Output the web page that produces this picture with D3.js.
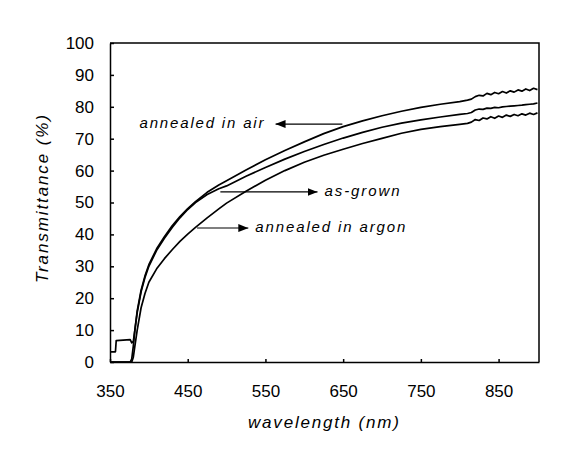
<html>
<head>
<script src="https://d3js.org/d3.v7.min.js"></script>
<style>
  body { margin: 0; background: white; }
  text { font-family: Arial, 'Liberation Sans', sans-serif; fill: black; }
  .tick text { font-size: 17px; }
  .lbl { font-size: 15px; font-style: italic; }
  .ttl { font-size: 17px; font-style: italic; }
</style>
</head>
<body>
<svg width="567" height="455"></svg>
<script>
// wavelength (nm) shared by all three scans
var wavelength = [350, 357, 358, 376, 378, 380, 382, 385, 390, 395,
  400, 410, 420, 430, 440, 450, 460, 475, 490, 500,
  525, 550, 575, 600, 625, 650, 675, 700, 725, 750,
  775, 800, 810, 815, 820, 825, 830, 835, 840, 845,
  850, 855, 860, 865, 870, 875, 880, 885, 890, 895, 900]
// transmittance (%)
var annealedAir = [0, 0, 0, 0, 1, 5, 10, 16, 22.5, 27,
  30.5, 35.5, 39.3, 42.7, 45.6, 48.1, 50.3, 53.2, 55.5, 56.8,
  60.2, 63.4, 66.3, 69, 71.6, 73.8, 75.6, 77.2, 78.6, 79.8,
  80.8, 81.6, 82.1, 82.4, 83.2, 83.6, 83.4, 84.2, 83.8, 84.5,
  84.1, 84.8, 84.3, 85, 84.6, 85.3, 84.9, 85.6, 85.1, 85.8, 85.4]
var asGrown = [3.2, 3.2, 6.7, 7, 6, 6.5, 10, 15.5, 22, 26.5,
  30, 35, 38.8, 42.2, 45.2, 47.8, 50, 52.5, 54.3, 55.2,
  58.2, 61, 63.6, 66, 68.2, 70.2, 72, 73.6, 74.9, 75.9,
  76.8, 77.6, 77.9, 78.2, 79, 79.3, 79.2, 79.6, 79.5, 79.8,
  79.7, 80, 80.1, 80.2, 80.3, 80.4, 80.5, 80.7, 80.8, 80.9, 81.2]
var annealedArgon = [0, 0, 0, 0, 0, 1.5, 5, 10, 17, 21.5,
  25, 29.2, 32.4, 35.2, 37.8, 40.1, 42.2, 45.2, 48, 49.8,
  53.5, 57, 60, 62.6, 64.8, 66.7, 68.5, 70.1, 71.7, 72.9,
  73.8, 74.5, 74.8, 75.2, 76, 75.7, 76.5, 76.2, 76.9, 76.4,
  77.1, 76.7, 77.4, 77, 77.6, 77.2, 77.8, 77.4, 78, 77.6, 78.1]

var xTicks = [350, 450, 550, 650, 750, 850]
var yTicks = [0, 10, 20, 30, 40, 50, 60, 70, 80, 90, 100]

// labels with arrows: tail on the curve, head pointing at the text (data units)
var notes = [
  {text: "annealed in air", tail: [649, 74.6], head: [563, 74.6], anchor: "end", len: 124},
  {text: "as-grown", tail: [492, 53.3], head: [617, 53.3], anchor: "start", len: 75},
  {text: "annealed in argon", tail: [462, 42], head: [528, 42], anchor: "start", len: 150}
]

var pL = 110, pR = 539, pT = 43, pB = 362
var x = d3.scaleLinear().domain([350, 902]).range([pL, pR])
var y = d3.scaleLinear().domain([0, 100]).range([pB, pT])

var svg = d3.select("svg")

svg.append("defs").append("marker")
  .attr("id", "head")
  .attr("viewBox", "0 0 10 8")
  .attr("refX", 10).attr("refY", 4)
  .attr("markerWidth", 10).attr("markerHeight", 8)
  .attr("markerUnits", "userSpaceOnUse")
  .attr("orient", "auto")
  .append("path").attr("d", "M0,0L10,4L0,8Z").attr("fill", "black")

// frame top and right
svg.append("path")
  .attr("d", "M" + pL + "," + pT + "H" + pR + "V" + pB)
  .attr("fill", "none").attr("stroke", "black").attr("stroke-width", 1.5)

var xAxis = svg.append("g")
  .attr("transform", "translate(0," + pB + ")")
  .call(d3.axisBottom(x).tickValues(xTicks).tickSizeInner(-3).tickSizeOuter(0).tickPadding(23))
var yAxis = svg.append("g")
  .attr("transform", "translate(" + pL + ",0)")
  .call(d3.axisLeft(y).tickValues(yTicks).tickSizeInner(-4).tickSizeOuter(0).tickPadding(16))
xAxis.selectAll(".domain, line").attr("stroke-width", 1.5)
yAxis.selectAll(".domain, line").attr("stroke-width", 1.5)
svg.selectAll("g").attr("font-family", null).attr("font-size", null)

var series = [annealedAir, asGrown, annealedArgon]
var line = d3.line()
  .x(function(d, i){ return x(wavelength[i]) })
  .y(function(d){ return y(d) })

svg.append("g").selectAll("path").data(series).enter().append("path")
  .attr("d", line)
  .attr("fill", "none")
  .attr("stroke", "black")
  .attr("stroke-width", 1.7)
  .attr("stroke-linejoin", "round")

var g = svg.append("g").selectAll("g").data(notes).enter().append("g")
g.append("line")
  .attr("x1", function(d){ return x(d.tail[0]) })
  .attr("y1", function(d){ return y(d.tail[1]) })
  .attr("x2", function(d){ return x(d.head[0]) })
  .attr("y2", function(d){ return y(d.head[1]) })
  .attr("stroke", "black").attr("stroke-width", 1.2)
  .attr("marker-end", "url(#head)")
g.append("text")
  .attr("class", "lbl")
  .attr("x", function(d){ return d.anchor == "end" ? x(d.head[0]) - 12 : x(d.head[0]) + 7 })
  .attr("y", function(d){ return y(d.head[1]) + 4 })
  .attr("text-anchor", function(d){ return d.anchor })
  .attr("textLength", function(d){ return d.len })
  .attr("lengthAdjust", "spacing")
  .text(function(d){ return d.text })

svg.append("text")
  .attr("class", "ttl")
  .attr("x", (pL + pR) / 2 - 1)
  .attr("y", 428)
  .attr("text-anchor", "middle")
  .attr("textLength", 151).attr("lengthAdjust", "spacing")
  .text("wavelength (nm)")

svg.append("text")
  .attr("class", "ttl")
  .attr("transform", "translate(48,199) rotate(-90)")
  .attr("text-anchor", "middle")
  .attr("textLength", 168).attr("lengthAdjust", "spacing")
  .text("Transmittance (%)")
</script>
</body>
</html>
